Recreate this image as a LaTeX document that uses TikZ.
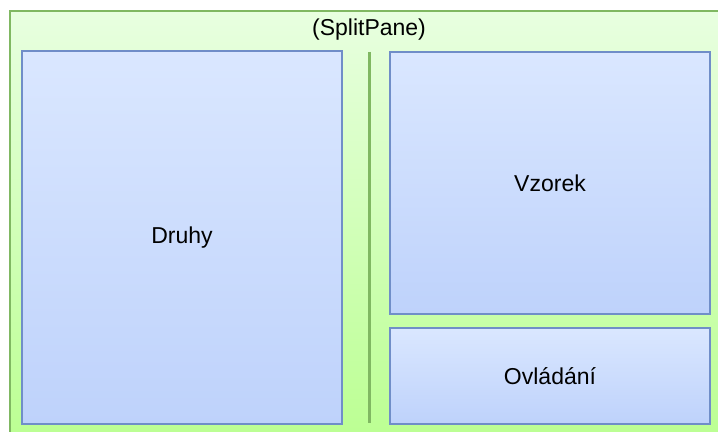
\documentclass[tikz,border=0pt]{standalone}
\usepackage{fontspec}
\setmainfont{Liberation Sans}
\usetikzlibrary{positioning}
\definecolor{panegreen}{RGB}{128,184,98}
\definecolor{panetop}{RGB}{232,255,224}
\definecolor{panebottom}{RGB}{186,255,144}
\definecolor{boxblue}{RGB}{112,142,200}
\definecolor{boxtop}{RGB}{218,231,255}
\definecolor{boxbottom}{RGB}{190,210,251}
\tikzset{
  splitpane/.style={draw=panegreen,line width=1pt,top color=panetop,bottom color=panebottom,inner sep=0pt},
  pane/.style={draw=boxblue,line width=1pt,top color=boxtop,bottom color=boxbottom,inner sep=0pt,font=\fontsize{11.5}{13}\selectfont},
  divider/.style={draw=panegreen,line width=1.5pt}
}
\begin{document}
\begin{tikzpicture}[x=0.5pt,y=-0.5pt]
  \useasboundingbox (0,0) rectangle (718,432);
  \clip (0,0) rectangle (718,432);
  % outer split pane, running off the right and bottom edge
  \node[splitpane,anchor=north west,minimum width=360pt,minimum height=220pt] (split) at (8.5,10) {};
  \node[font=\fontsize{11.5}{13}\selectfont] (title) at (369,30) {(SplitPane)};
  % the three panes
  \node[pane,minimum width=160pt,minimum height=186.5pt] (druhy) at (182,237.5) {Druhy};
  \node[pane,minimum width=160pt,minimum height=131pt] (vzorek) at (550,183) {Vzorek};
  \node[pane,minimum width=160pt,minimum height=48pt] (ovladani) at (550,376) {Ovládání};
  % divider between left and right side
  \coordinate (divtop) at (369,52);
  \coordinate (divbot) at (369,423);
  \draw[divider] (divtop) -- (divbot);
\end{tikzpicture}
\end{document}
